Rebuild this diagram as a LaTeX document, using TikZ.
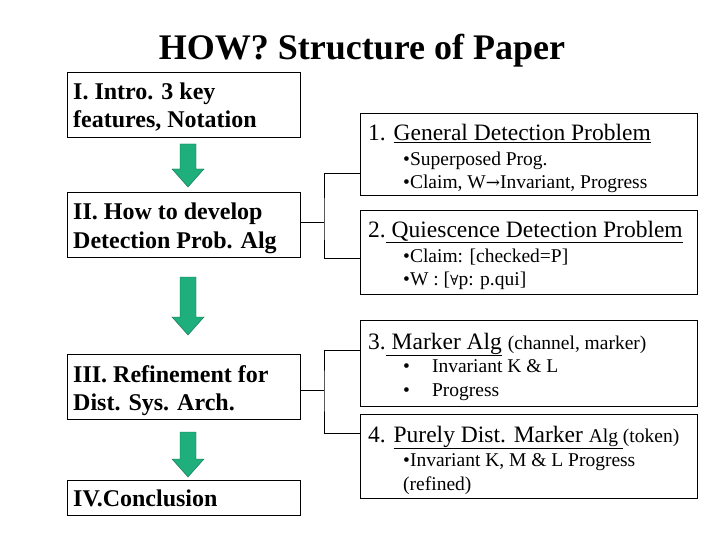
\documentclass[tikz,border=0pt]{standalone}
\usepackage{fontspec}
\setmainfont{Liberation Serif}
\newfontfamily\symf{DejaVu Serif}
\definecolor{garr}{RGB}{30,175,125}
\begin{document}
\begin{tikzpicture}[x=1pt,y=-1pt,
  box/.style={draw,line width=0.8pt,anchor=north west,inner sep=0pt},
  lt/.style={anchor=base west,inner sep=0pt,font=\fontsize{24}{28}\selectfont\bfseries,align=left},
  hd/.style={anchor=base west,inner sep=0pt,font=\fontsize{23.5}{26}\selectfont},
  bl/.style={anchor=base west,inner sep=0pt,font=\fontsize{19.5}{22}\selectfont},
  conn/.style={line width=0.8pt},
  garrow/.style={fill=garr,draw=garr!60!black,line width=0.4pt}]
\useasboundingbox (0,0) rectangle (720,540);
\fill[white] (0,0) rectangle (720,540);
\node[anchor=base,font=\fontsize{36}{40}\selectfont\bfseries] (title) at (362,60) {HOW? Structure of Paper};
% left boxes
\node[box,minimum width=233pt,minimum height=65pt] (b1) at (67,72) {};
\node[box,minimum width=233pt,minimum height=65pt] (b2) at (67,192) {};
\node[box,minimum width=233pt,minimum height=65pt] (b3) at (67,354) {};
\node[box,minimum width=233pt,minimum height=35pt] (b4) at (67,480) {};
\node[lt] (t1a) at (73,100) {I. Intro. 3 key};
\node[lt] (t1b) at (73,128) {features, Notation};
\node[lt] (t2a) at (73,220) {II. How to develop};
\node[lt] (t2b) at (73,248) {Detection Prob. Alg};
\node[lt] (t3a) at (73,382) {III. Refinement for};
\node[lt] (t3b) at (73,410) {Dist. Sys. Arch.};
\node[lt] (t4a) at (73,506) {IV.Conclusion};
% green arrows
\foreach \ya/\yb in {144/187, 277/335, 432/477}{
  \draw[garrow] (180,\ya) -- (196,\ya) -- (196,\yb-18) -- (204,\yb-18) -- (188,\yb) -- (172,\yb-18) -- (180,\yb-18) -- cycle;
}
% right boxes
\node[box,minimum width=337pt,minimum height=82pt] (r1) at (360,113) {};
\node[box,minimum width=337pt,minimum height=84pt] (r2) at (360,210) {};
\node[box,minimum width=337pt,minimum height=86pt] (r3) at (360,320) {};
\node[box,minimum width=337pt,minimum height=84pt] (r4) at (360,414) {};
\node[hd] (h1) at (368,141) {1. \underline{General Detection Problem}};
\node[bl] (s1a) at (403,166) {•Superposed Prog.};
\node[bl] (s1b) at (403,189) {•Claim, W{\symf\fontsize{17}{20}\selectfont →}Invariant, Progress};
\node[hd] (h2) at (368,237) {2.\underline{ Quiescence Detection Problem}};
\node[bl] (s2a) at (403,262) {•Claim: [checked=P]};
\node[bl] (s2b) at (403,285) {•W : [{\symf\fontsize{14}{20}\selectfont ∀}p: p.qui]};
\node[hd] (h3) at (368,349) {3.\underline{ Marker Alg} {\fontsize{19.5}{22}\selectfont(channel, marker)}};
\node[bl] (s3a) at (403,372) {•\hspace{22pt}Invariant K \& L};
\node[bl] (s3b) at (403,396) {•\hspace{22pt}Progress};
\node[hd] (h4) at (368,442) {4. \underline{Purely Dist. Marker {\fontsize{19.5}{22}\selectfont Alg }}{\fontsize{19.5}{22}\selectfont(token)}};
\node[bl] (s4a) at (403,466) {•Invariant K, M \& L Progress};
\node[bl] (s4b) at (403,490) {(refined)};
% connectors
\coordinate (j1) at (324,222);
\coordinate (j2) at (324,390);
\draw[conn] (b2.east |- j1) -- (j1);
\draw[conn] (r1.west |- 0,173) -| (j1) |- (r2.west |- 0,258);
\draw[conn] (b3.east |- j2) -- (j2);
\draw[conn] (r3.west |- 0,350) -| (j2) |- (r4.west |- 0,433);
\end{tikzpicture}
\end{document}
